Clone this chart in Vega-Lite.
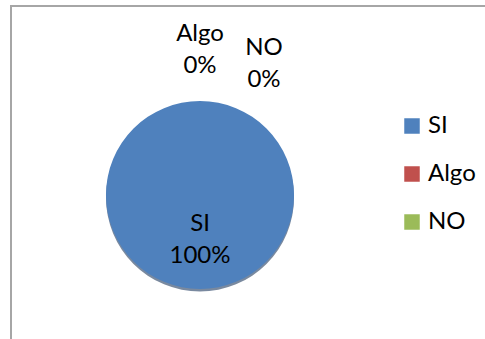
{
  "$schema": "https://vega.github.io/schema/vega-lite/v6.json",
  "autosize": "none",
  "width": 480,
  "height": 340,
  "padding": {"left": 11, "top": 6, "right": 0, "bottom": 0},
  "background": "white",
  "view": {"stroke": "#a6a6a6", "strokeWidth": 2, "fill": "white"},
  "config": {
    "view": {"stroke": "#a6a6a6", "strokeWidth": 2},
    "style": {"cell": {"stroke": "#a6a6a6", "strokeWidth": 2}},
    "font": "Lato",
    "text": {"font": "Lato", "fontSize": 24, "color": "#000000"}
  },
  "data": {
    "values": [
      {"respuesta": "SI", "share": 1},
      {"respuesta": "Algo", "share": 0},
      {"respuesta": "NO", "share": 0}
    ]
  },
  "encoding": {
    "theta": {"field": "share", "type": "quantitative", "stack": true},
    "order": {"field": "share", "type": "quantitative", "sort": "descending"}
  },
  "layer": [
    {
      "mark": {"type": "arc", "outerRadius": 94, "x": 189, "y": 191.5, "color": "#1f3a5f", "opacity": 0.6}
    },
    {
      "mark": {"type": "arc", "outerRadius": 94, "x": 189, "y": 189},
      "encoding": {
        "color": {
          "field": "respuesta",
          "type": "nominal",
          "scale": {"domain": ["SI", "Algo", "NO"], "range": ["#4f81bd", "#c0504d", "#9bbb59"]},
          "legend": {
            "orient": "none",
            "legendX": 389,
            "legendY": 108,
            "title": null,
            "padding": 0,
            "symbolType": "square",
            "symbolSize": 240,
            "symbolStrokeWidth": 0,
            "symbolOpacity": 1,
            "labelFont": "Lato",
            "labelFontSize": 24,
            "labelColor": "#000000",
            "labelOffset": 4,
            "rowPadding": 24
          }
        }
      }
    },
    {
      "transform": [{"filter": "datum.respuesta == 'SI'"}],
      "mark": {"type": "text", "x": 189, "y": 189, "radius": 45, "dy": -16},
      "encoding": {"text": {"field": "respuesta"}}
    },
    {
      "transform": [{"filter": "datum.respuesta == 'SI'"}],
      "mark": {"type": "text", "x": 189, "y": 189, "radius": 45, "dy": 16},
      "encoding": {"text": {"field": "share", "type": "quantitative", "format": ".0%"}}
    },
    {
      "transform": [{"filter": "datum.respuesta == 'Algo'"}],
      "mark": {"type": "text", "x": 189, "y": 189, "radius": 145, "dy": -16},
      "encoding": {"text": {"field": "respuesta"}}
    },
    {
      "transform": [{"filter": "datum.respuesta == 'Algo'"}],
      "mark": {"type": "text", "x": 189, "y": 189, "radius": 145, "dy": 16},
      "encoding": {"text": {"field": "share", "type": "quantitative", "format": ".0%"}}
    },
    {
      "transform": [{"filter": "datum.respuesta == 'NO'"}],
      "mark": {"type": "text", "x": 189, "y": 189, "radius": 145, "dx": 64, "dy": -2.5},
      "encoding": {"text": {"field": "respuesta"}}
    },
    {
      "transform": [{"filter": "datum.respuesta == 'NO'"}],
      "mark": {"type": "text", "x": 189, "y": 189, "radius": 145, "dx": 64, "dy": 29.5},
      "encoding": {"text": {"field": "share", "type": "quantitative", "format": ".0%"}}
    }
  ]
}
